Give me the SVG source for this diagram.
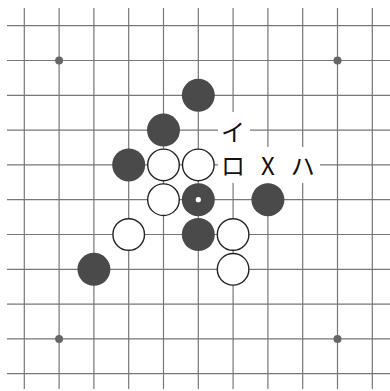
<svg xmlns="http://www.w3.org/2000/svg" width="390" height="391" viewBox="0 0 390 391">
<style>
.g line{stroke:#777;stroke-width:1.2}
.b{fill:#4a4a4a}
.w{fill:#fff;stroke:#222;stroke-width:1.4}
.s{fill:#666}
.lb{fill:#fff}
.t{font-family:"Noto Sans CJK JP","Noto Sans",sans-serif;font-size:24px;fill:#111;text-anchor:middle;dominant-baseline:central}
</style>
<rect width="390" height="391" fill="#fff"/>
<g class="g" id="grid">
<line x1="24.3" y1="8" x2="24.3" y2="389"/>
<line x1="59.1" y1="8" x2="59.1" y2="389"/>
<line x1="93.9" y1="8" x2="93.9" y2="389"/>
<line x1="128.7" y1="8" x2="128.7" y2="389"/>
<line x1="163.5" y1="8" x2="163.5" y2="389"/>
<line x1="198.3" y1="8" x2="198.3" y2="389"/>
<line x1="233.1" y1="8" x2="233.1" y2="389"/>
<line x1="267.9" y1="8" x2="267.9" y2="389"/>
<line x1="302.7" y1="8" x2="302.7" y2="389"/>
<line x1="337.5" y1="8" x2="337.5" y2="389"/>
<line x1="372.3" y1="8" x2="372.3" y2="389"/>
<line x1="7" y1="25.7" x2="390" y2="25.7"/>
<line x1="7" y1="60.5" x2="390" y2="60.5"/>
<line x1="7" y1="95.3" x2="390" y2="95.3"/>
<line x1="7" y1="130.1" x2="390" y2="130.1"/>
<line x1="7" y1="164.9" x2="390" y2="164.9"/>
<line x1="7" y1="199.7" x2="390" y2="199.7"/>
<line x1="7" y1="234.5" x2="390" y2="234.5"/>
<line x1="7" y1="269.3" x2="390" y2="269.3"/>
<line x1="7" y1="304.1" x2="390" y2="304.1"/>
<line x1="7" y1="338.9" x2="390" y2="338.9"/>
<line x1="7" y1="373.7" x2="390" y2="373.7"/>
</g>
<g id="stars">
<circle class="s" cx="59.1" cy="60.5" r="4"/>
<circle class="s" cx="337.5" cy="60.5" r="4"/>
<circle class="s" cx="59.1" cy="338.9" r="4"/>
<circle class="s" cx="337.5" cy="338.9" r="4"/>
</g>
<g id="stones">
<circle id="b1" class="b" cx="198.3" cy="95.3" r="16.5"/>
<circle id="b2" class="b" cx="163.5" cy="130.1" r="16.5"/>
<circle id="b3" class="b" cx="128.7" cy="164.9" r="16.5"/>
<circle id="w1" class="w" cx="163.5" cy="164.9" r="15.8"/>
<circle id="w2" class="w" cx="198.3" cy="164.9" r="15.8"/>
<circle id="w3" class="w" cx="163.5" cy="199.7" r="15.8"/>
<g id="b4"><circle class="b" cx="198.3" cy="199.7" r="16.5"/><circle cx="198.3" cy="199.7" r="2.6" fill="#fff"/></g>
<circle id="b5" class="b" cx="267.9" cy="199.7" r="16.5"/>
<circle id="w4" class="w" cx="128.7" cy="234.5" r="15.8"/>
<circle id="b6" class="b" cx="198.3" cy="234.5" r="16.5"/>
<circle id="w5" class="w" cx="233.1" cy="234.5" r="15.8"/>
<circle id="w6" class="w" cx="233.1" cy="269.3" r="15.8"/>
<circle id="b7" class="b" cx="93.9" cy="269.3" r="16.5"/>
</g>
<g id="labels">
<rect class="lb" x="218" y="112" width="32" height="36"/>
<text class="t" x="233.1" y="130.1">イ</text>
<rect class="lb" x="218" y="147" width="102" height="36"/>
<text class="t" x="233.1" y="164.9">ロ</text>
<text class="t" x="267.9" y="164.9">X</text>
<text class="t" x="302.7" y="164.9">ハ</text>
</g>
</svg>
